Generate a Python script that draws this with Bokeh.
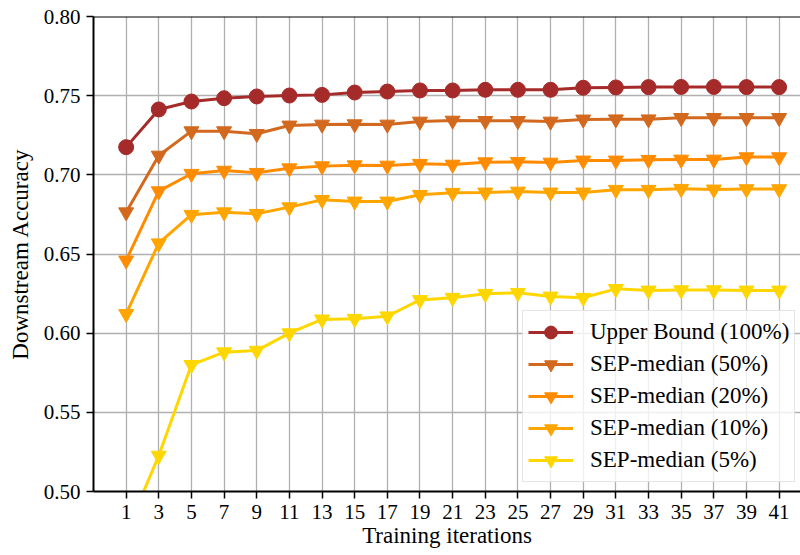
from bokeh.plotting import figure
from bokeh.models import (Range1d, FixedTicker, PrintfTickFormatter, Legend,
                          LegendItem, Span, ColumnDataSource)
from bokeh.embed import file_html
from bokeh.resources import INLINE

# ---- data ----
iterations = [1, 3, 5, 7, 9, 11, 13, 15, 17, 19, 21, 23, 25, 27, 29, 31, 33, 35, 37, 39, 41]

upper_bound = [0.7175, 0.7413, 0.7463, 0.7484, 0.7495, 0.7501, 0.7505, 0.7520, 0.7526, 0.7533, 0.7533,
               0.7537, 0.7537, 0.7537, 0.7550, 0.7552, 0.7554, 0.7555, 0.7555, 0.7554, 0.7554]
sep_50 = [0.6764, 0.7122, 0.7276, 0.7276, 0.7259, 0.7312, 0.7318, 0.7320, 0.7318, 0.7337, 0.7343,
          0.7341, 0.7341, 0.7337, 0.7350, 0.7351, 0.7351, 0.7360, 0.7360, 0.7360, 0.7360]
sep_20 = [0.6460, 0.6897, 0.7007, 0.7027, 0.7013, 0.7042, 0.7055, 0.7061, 0.7059, 0.7070, 0.7065,
          0.7080, 0.7082, 0.7078, 0.7091, 0.7091, 0.7095, 0.7097, 0.7097, 0.7112, 0.7112]
sep_10 = [0.6122, 0.6568, 0.6748, 0.6764, 0.6754, 0.6796, 0.6842, 0.6832, 0.6832, 0.6874, 0.6887,
          0.6889, 0.6895, 0.6889, 0.6889, 0.6906, 0.6906, 0.6912, 0.6908, 0.6910, 0.6910]
sep_5 = [0.4740, 0.5227, 0.5800, 0.5880, 0.5890, 0.6000, 0.6087, 0.6091, 0.6107, 0.6210, 0.6224,
         0.6249, 0.6255, 0.6232, 0.6224, 0.6280, 0.6270, 0.6272, 0.6272, 0.6270, 0.6270]

series_labels = ["Upper Bound (100%)", "SEP-median (50%)", "SEP-median (20%)",
                 "SEP-median (10%)", "SEP-median (5%)"]
series_values = [upper_bound, sep_50, sep_20, sep_10, sep_5]
series_colors = ["#a52a2a", "#d2691e", "#ff8c00", "#ffa500", "#ffd700"]
series_markers = ["circle", "inverted_triangle", "inverted_triangle",
                  "inverted_triangle", "inverted_triangle"]

y_ticks = [0.50, 0.55, 0.60, 0.65, 0.70, 0.75, 0.80]
x_label = "Training iterations"
y_label = "Downstream Accuracy"

FONT = "Liberation Serif"

p = figure(width=800, height=555, output_backend="svg", toolbar_location=None,
           x_range=Range1d(-1, 42.31), y_range=Range1d(0.50, 0.80),
           min_border_left=93, min_border_right=0, min_border_top=16, min_border_bottom=64)

p.outline_line_color = None
p.background_fill_color = "white"
p.border_fill_color = "white"

# axes
p.xaxis.ticker = FixedTicker(ticks=iterations)
p.yaxis.ticker = FixedTicker(ticks=y_ticks)
p.yaxis.formatter = PrintfTickFormatter(format="%.2f")
for ax in (p.xaxis, p.yaxis):
    ax.axis_line_color = "black"
    ax.axis_line_width = 2
    ax.major_tick_line_color = "black"
    ax.major_tick_line_width = 1.5
    ax.major_tick_out = 7
    ax.major_tick_in = 0
    ax.minor_tick_line_color = None
    ax.major_label_text_font = FONT
    ax.major_label_text_font_size = "21px"
    ax.major_label_text_color = "black"
    ax.axis_label_text_font = FONT
    ax.axis_label_text_font_size = "23px"
    ax.axis_label_text_font_style = "normal"
    ax.axis_label_text_color = "black"
p.xaxis.axis_label = x_label
p.yaxis.axis_label = y_label
p.xaxis.major_label_standoff = 6
p.yaxis.major_label_standoff = 6
p.xaxis.axis_label_standoff = 1
p.yaxis.axis_label_standoff = 8

# grid
p.grid.grid_line_color = "#b0b0b0"
p.grid.grid_line_width = 1.3

# top spine
p.add_layout(Span(location=0.80, dimension="width", line_color="black", line_width=2))

items = []
for lab, vals, col, mk in zip(series_labels, series_values, series_colors, series_markers):
    src = ColumnDataSource(dict(x=iterations, y=vals))
    lr = p.line("x", "y", source=src, line_color=col, line_width=3)
    sr = p.scatter("x", "y", source=src, marker=mk, size=15, fill_color=col,
                   line_color=col, line_width=1)
    items.append(LegendItem(label=lab, renderers=[lr, sr]))

legend = Legend(items=items, location=(429, 9))
legend.label_text_font = FONT
legend.label_text_font_size = "23px"
legend.label_text_color = "black"
legend.glyph_width = 45
legend.glyph_height = 32
legend.label_height = 32
legend.spacing = 0
legend.padding = 5
legend.margin = 0
legend.label_standoff = 17
legend.background_fill_color = "white"
legend.background_fill_alpha = 0.8
legend.border_line_color = "#cccccc"
legend.border_line_width = 1
p.add_layout(legend)

open("out.html", "w").write(file_html(p, INLINE))
